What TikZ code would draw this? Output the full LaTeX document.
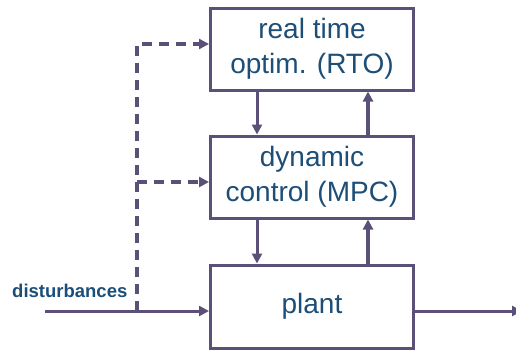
\documentclass[tikz,border=0pt]{standalone}
\usepackage{fontspec}
\setmainfont{Liberation Sans}
\usetikzlibrary{arrows.meta,calc}
\definecolor{linecol}{HTML}{5A5078}
\definecolor{textcol}{HTML}{1D4E78}
\tikzset{
  block/.style={draw=linecol, line width=3pt, rectangle, minimum width=203pt,
    minimum height=82pt, inner sep=0pt, align=center, text=textcol,
    font=\fontsize{28}{35}\selectfont},
  flow/.style={draw=linecol, line width=3pt, -{Triangle[length=10pt,width=10pt]}},
  upflow/.style={flow, line width=4pt},
  feed/.style={draw=linecol, line width=3.5pt, dash pattern=on 10pt off 7pt,
    -{Triangle[length=10pt,width=10pt]}},
}
\begin{document}
\begin{tikzpicture}[x=1pt,y=-1pt]
\clip (0,0) rectangle (516,349);
\fill[white] (0,0) rectangle (516,349);

% the three levels of the control hierarchy
\node[block] (rto) at (312,49) {real time\\optim. (RTO)};
\node[block] (mpc) at (312,177) {dynamic\\control (MPC)};
\node[block, minimum height=83pt] (plant) at (312,306.5) {plant};

% columns of the vertical signals
\coordinate (dn) at (257,0);
\coordinate (up) at (368,0);

\draw[flow] (rto.south -| dn) -- (mpc.north -| dn);
\draw[upflow] (mpc.north -| up) -- (rto.south -| up);
\draw[flow] (mpc.south -| dn) -- (plant.north -| dn);
\draw[upflow] (plant.north -| up) -- (mpc.south -| up);

% disturbance input and its feed-forward branches
\coordinate (din) at (45,311);
\coordinate (tap) at (137,311);
\coordinate (trto) at (137,44);
\coordinate (tmpc) at (137,182);
\coordinate (out) at (522,311);

\draw[flow] (din) -- (din -| plant.west);
\draw[feed] (tap) -- (trto) -- (trto -| rto.west);
\draw[feed] (tmpc) -- (tmpc -| mpc.west);
\draw[flow] (plant.east |- out) -- (out);

\node[anchor=base west, inner sep=0pt, text=textcol,
  font=\fontsize{18.5}{22}\selectfont\bfseries] (dlabel) at (12,297) {disturbances};
\end{tikzpicture}
\end{document}
